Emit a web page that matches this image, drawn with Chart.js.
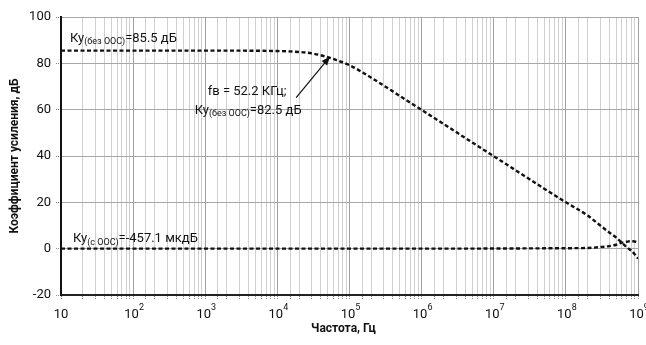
<!DOCTYPE html>
<html>
<head>
<meta charset="utf-8">
<script src="https://cdn.jsdelivr.net/npm/chart.js@4.4.1/dist/chart.umd.min.js"></script>
<style>
  html, body { margin: 0; padding: 0; background: #fff; }
  #wrap { width: 646px; height: 345px; }
</style>
</head>
<body>
<div id="wrap"><canvas id="c" width="646" height="345"></canvas></div>
<script>
// Frequency points, Hz
const freqHz = [10, 100, 1e3, 1e4, 2e4, 3e4, 52200, 7e4, 1e5, 2e5, 5e5, 1e6, 2e6, 5e6,
                1e7, 2e7, 5e7, 1e8, 2e8, 3e8, 4e8, 5e8, 6e8, 7e8, 8e8, 9e8, 1e9];
// Open-loop gain (без ООС), dB
const gainOpenLoop = [85.5, 85.5, 85.5, 85.3, 84.9, 84.3, 82.5, 81.1, 79.2, 73.8, 65.9, 59.9, 53.9, 45.9,
                      39.9, 33.9, 25.9, 20.0, 14.3, 10.0, 7.0, 4.8, 2.5, 0.6, -0.8, -2.4, -4.3];
// Closed-loop gain (с ООС), dB
const gainClosedLoop = [0, 0, 0, 0, 0, 0, 0, 0, 0, 0, 0, 0, 0, 0,
                        0.1, 0.1, 0.15, 0.2, 0.3, 0.7, 1.1, 1.7, 2.6, 3.0, 3.2, 3.1, 2.7];
// Decade tick labels: exponents of 10
const xTickExponents = [1, 2, 3, 4, 5, 6, 7, 8, 9];
const yTicks = [-20, 0, 20, 40, 60, 80, 100];
// Upper cutoff point
const cutoffFreq = 52200;
const cutoffGain = 82.5;

const FONT = 'Roboto, "Noto Sans", sans-serif';

function kyLabel(ctx, x, y, sub, rest, align) {
  const big = '13px ' + FONT, small = '9px ' + FONT;
  ctx.font = big; const w1 = ctx.measureText('Ку').width;
  ctx.font = small; const w2 = ctx.measureText(sub).width;
  ctx.font = big; const w3 = ctx.measureText(rest).width;
  const x0 = align === 'center' ? x - (w1 + w2 + w3) / 2 : x;
  ctx.textAlign = 'left'; ctx.textBaseline = 'alphabetic';
  ctx.font = big; ctx.fillText('Ку', x0, y);
  ctx.font = small; ctx.fillText(sub, x0 + w1, y + 2.5);
  ctx.font = big; ctx.fillText(rest, x0 + w1 + w2, y);
}

const annotations = {
  id: 'annotations',
  afterDraw(chart) {
    const ctx = chart.ctx, xs = chart.scales.x, ys = chart.scales.y, ca = chart.chartArea;
    ctx.save();
    ctx.fillStyle = '#111';

    // Decade tick labels 10, 10², ... 10⁹
    xTickExponents.forEach(e => {
      const px = xs.getPixelForValue(Math.pow(10, e));
      ctx.textAlign = 'left'; ctx.textBaseline = 'alphabetic';
      if (e === 1) {
        ctx.font = '13px ' + FONT; ctx.textAlign = 'center';
        ctx.fillText('10', px, ca.bottom + 23);
      } else {
        ctx.font = '13px ' + FONT;
        const wb = ctx.measureText('10').width;
        ctx.font = '9px ' + FONT;
        const we = ctx.measureText(String(e)).width;
        const x0 = px - (wb + we) / 2 + 1;
        ctx.font = '13px ' + FONT; ctx.fillText('10', x0, ca.bottom + 23);
        ctx.font = '9px ' + FONT; ctx.fillText(String(e), x0 + wb, ca.bottom + 15);
      }
    });

    // Axis titles
    ctx.font = 'bold 12px ' + FONT; ctx.textAlign = 'center'; ctx.textBaseline = 'middle';
    ctx.fillText('Частота, Гц', (ca.left + ca.right) / 2 - 6, ca.bottom + 34);
    ctx.save();
    ctx.translate(15, (ca.top + ca.bottom) / 2);
    ctx.rotate(-Math.PI / 2);
    ctx.fillText('Коэффициент усиления, дБ', 0, 0);
    ctx.restore();

    // Curve labels
    kyLabel(ctx, ca.left + 9, ys.getPixelForValue(89.4), '(без ООС)', '=85.5 дБ', 'left');
    kyLabel(ctx, ca.left + 12, ys.getPixelForValue(2.7), '(с ООС)', '=-457.1 мкдБ', 'left');

    // Cutoff annotation with arrow
    const tx = xs.getPixelForValue(cutoffFreq), ty = ys.getPixelForValue(cutoffGain);
    ctx.font = '13px ' + FONT; ctx.textAlign = 'center'; ctx.textBaseline = 'alphabetic';
    ctx.fillText('fв = 52.2 КГц;', tx - 82, ty + 37);
    kyLabel(ctx, tx - 81, ty + 56, '(без ООС)', '=82.5 дБ', 'center');

    const sx = tx - 33, sy = ty + 40;
    const ang = Math.atan2(ty - sy, tx - sx);
    const hx = tx + Math.cos(ang) * 1.5, hy = ty + Math.sin(ang) * 1.5;
    ctx.strokeStyle = '#111'; ctx.lineWidth = 1.2;
    ctx.beginPath();
    ctx.moveTo(sx, sy);
    ctx.lineTo(hx - Math.cos(ang) * 6, hy - Math.sin(ang) * 6);
    ctx.stroke();
    ctx.beginPath();
    ctx.moveTo(hx, hy);
    ctx.lineTo(hx - Math.cos(ang) * 9 + Math.sin(ang) * 3.5, hy - Math.sin(ang) * 9 - Math.cos(ang) * 3.5);
    ctx.lineTo(hx - Math.cos(ang) * 9 - Math.sin(ang) * 3.5, hy - Math.sin(ang) * 9 + Math.cos(ang) * 3.5);
    ctx.closePath();
    ctx.fill();
    ctx.restore();
  }
};

const isDecade = v => Math.abs(Math.log10(v) - Math.round(Math.log10(v))) < 1e-9;

new Chart(document.getElementById('c'), {
  type: 'line',
  data: {
    datasets: [
      {
        label: 'Ку (без ООС)',
        data: freqHz.map((f, i) => ({ x: f, y: gainOpenLoop[i] })),
        borderColor: '#111', borderWidth: 2.4, borderDash: [4, 2.5],
        pointRadius: 0, cubicInterpolationMode: 'monotone', fill: false
      },
      {
        label: 'Ку (с ООС)',
        data: freqHz.map((f, i) => ({ x: f, y: gainClosedLoop[i] })),
        borderColor: '#111', borderWidth: 2.4, borderDash: [4, 2.5],
        pointRadius: 0, cubicInterpolationMode: 'monotone', fill: false
      }
    ]
  },
  options: {
    responsive: false,
    animation: false,
    devicePixelRatio: 1,
    layout: { padding: { top: 17, right: 8, left: 0, bottom: 0 } },
    plugins: { legend: { display: false }, tooltip: { enabled: false } },
    scales: {
      x: {
        type: 'logarithmic',
        min: 10, max: 1e9,
        afterFit(s) { s.height = 50; },
        ticks: { display: false, autoSkip: false },
        grid: {
          color: ctx => (ctx.tick && isDecade(ctx.tick.value)) ? '#a0a0a0' : '#d0d0d0',
          lineWidth: 1,
          borderDash: [1, 1],
          tickLength: 5,
          tickColor: '#8a8a8a',
          tickBorderDash: [1, 1]
        },
        border: { display: true, color: '#222', width: 2 }
      },
      y: {
        min: -20, max: 100,
        afterFit(s) { s.width = 61; },
        afterBuildTicks(s) { s.ticks = yTicks.map(v => ({ value: v })); },
        ticks: {
          color: '#111', padding: 5,
          font: { family: FONT, size: 13 }
        },
        grid: {
          color: '#a8a8a8',
          lineWidth: 1,
          borderDash: [1, 1],
          tickLength: 5,
          tickColor: '#8a8a8a',
          tickBorderDash: [1, 1]
        },
        border: { display: true, color: '#111', width: 2 }
      }
    }
  },
  plugins: [annotations]
});
</script>
</body>
</html>
